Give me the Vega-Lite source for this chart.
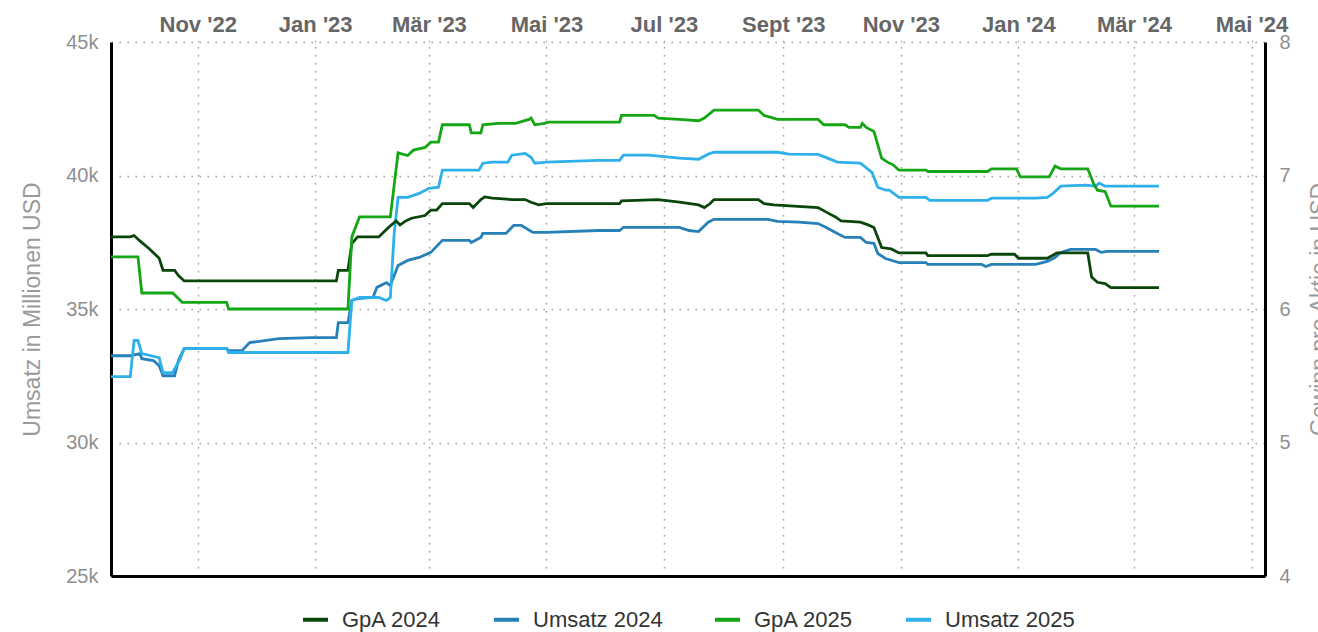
{
  "$schema": "https://vega.github.io/schema/vega-lite/v6.json",
  "width": 1154,
  "height": 534,
  "autosize": {"type": "none"},
  "padding": {"left": 111, "top": 42, "right": 53, "bottom": 56},
  "background": "white",
  "config": {
    "font": "Liberation Sans",
    "view": {"stroke": null},
    "axis": {"labelFont": "Liberation Sans", "titleFont": "Liberation Sans"},
    "legend": {"layout": {"bottom": {"anchor": "middle"}}}
  },
  "datasets": {
    "umsatz": [
      {"d": "2022-09-17", "s": "Umsatz 2024", "v": 33250},
      {"d": "2022-09-27", "s": "Umsatz 2024", "v": 33250},
      {"d": "2022-10-02", "s": "Umsatz 2024", "v": 33330},
      {"d": "2022-10-03", "s": "Umsatz 2024", "v": 33140},
      {"d": "2022-10-09", "s": "Umsatz 2024", "v": 33070},
      {"d": "2022-10-12", "s": "Umsatz 2024", "v": 32880},
      {"d": "2022-10-14", "s": "Umsatz 2024", "v": 32500},
      {"d": "2022-10-20", "s": "Umsatz 2024", "v": 32500},
      {"d": "2022-10-22", "s": "Umsatz 2024", "v": 33070},
      {"d": "2022-10-25", "s": "Umsatz 2024", "v": 33520},
      {"d": "2022-11-16", "s": "Umsatz 2024", "v": 33520},
      {"d": "2022-11-17", "s": "Umsatz 2024", "v": 33440},
      {"d": "2022-11-24", "s": "Umsatz 2024", "v": 33440},
      {"d": "2022-11-28", "s": "Umsatz 2024", "v": 33740},
      {"d": "2022-12-13", "s": "Umsatz 2024", "v": 33890},
      {"d": "2022-12-30", "s": "Umsatz 2024", "v": 33930},
      {"d": "2023-01-12", "s": "Umsatz 2024", "v": 33930},
      {"d": "2023-01-13", "s": "Umsatz 2024", "v": 34490},
      {"d": "2023-01-18", "s": "Umsatz 2024", "v": 34490},
      {"d": "2023-01-20", "s": "Umsatz 2024", "v": 35320},
      {"d": "2023-01-23", "s": "Umsatz 2024", "v": 35390},
      {"d": "2023-01-31", "s": "Umsatz 2024", "v": 35430},
      {"d": "2023-02-02", "s": "Umsatz 2024", "v": 35810},
      {"d": "2023-02-07", "s": "Umsatz 2024", "v": 35990},
      {"d": "2023-02-09", "s": "Umsatz 2024", "v": 35880},
      {"d": "2023-02-13", "s": "Umsatz 2024", "v": 36630},
      {"d": "2023-02-18", "s": "Umsatz 2024", "v": 36820},
      {"d": "2023-02-24", "s": "Umsatz 2024", "v": 36930},
      {"d": "2023-03-02", "s": "Umsatz 2024", "v": 37120},
      {"d": "2023-03-08", "s": "Umsatz 2024", "v": 37570},
      {"d": "2023-03-22", "s": "Umsatz 2024", "v": 37570},
      {"d": "2023-03-23", "s": "Umsatz 2024", "v": 37490},
      {"d": "2023-03-28", "s": "Umsatz 2024", "v": 37680},
      {"d": "2023-03-29", "s": "Umsatz 2024", "v": 37830},
      {"d": "2023-04-10", "s": "Umsatz 2024", "v": 37830},
      {"d": "2023-04-14", "s": "Umsatz 2024", "v": 38130},
      {"d": "2023-04-18", "s": "Umsatz 2024", "v": 38130},
      {"d": "2023-04-24", "s": "Umsatz 2024", "v": 37870},
      {"d": "2023-05-01", "s": "Umsatz 2024", "v": 37870},
      {"d": "2023-05-28", "s": "Umsatz 2024", "v": 37940},
      {"d": "2023-06-08", "s": "Umsatz 2024", "v": 37940},
      {"d": "2023-06-10", "s": "Umsatz 2024", "v": 38060},
      {"d": "2023-07-09", "s": "Umsatz 2024", "v": 38060},
      {"d": "2023-07-14", "s": "Umsatz 2024", "v": 37940},
      {"d": "2023-07-19", "s": "Umsatz 2024", "v": 37900},
      {"d": "2023-07-24", "s": "Umsatz 2024", "v": 38250},
      {"d": "2023-07-27", "s": "Umsatz 2024", "v": 38360},
      {"d": "2023-08-24", "s": "Umsatz 2024", "v": 38360},
      {"d": "2023-08-29", "s": "Umsatz 2024", "v": 38280},
      {"d": "2023-09-09", "s": "Umsatz 2024", "v": 38250},
      {"d": "2023-09-19", "s": "Umsatz 2024", "v": 38200},
      {"d": "2023-09-23", "s": "Umsatz 2024", "v": 38060},
      {"d": "2023-09-29", "s": "Umsatz 2024", "v": 37830},
      {"d": "2023-10-03", "s": "Umsatz 2024", "v": 37680},
      {"d": "2023-10-11", "s": "Umsatz 2024", "v": 37680},
      {"d": "2023-10-14", "s": "Umsatz 2024", "v": 37490},
      {"d": "2023-10-18", "s": "Umsatz 2024", "v": 37460},
      {"d": "2023-10-20", "s": "Umsatz 2024", "v": 37080},
      {"d": "2023-10-24", "s": "Umsatz 2024", "v": 36890},
      {"d": "2023-10-31", "s": "Umsatz 2024", "v": 36740},
      {"d": "2023-11-14", "s": "Umsatz 2024", "v": 36740},
      {"d": "2023-11-15", "s": "Umsatz 2024", "v": 36670},
      {"d": "2023-12-13", "s": "Umsatz 2024", "v": 36670},
      {"d": "2023-12-15", "s": "Umsatz 2024", "v": 36590},
      {"d": "2023-12-18", "s": "Umsatz 2024", "v": 36670},
      {"d": "2024-01-10", "s": "Umsatz 2024", "v": 36670},
      {"d": "2024-01-16", "s": "Umsatz 2024", "v": 36780},
      {"d": "2024-01-20", "s": "Umsatz 2024", "v": 36930},
      {"d": "2024-01-23", "s": "Umsatz 2024", "v": 37120},
      {"d": "2024-01-28", "s": "Umsatz 2024", "v": 37230},
      {"d": "2024-02-10", "s": "Umsatz 2024", "v": 37230},
      {"d": "2024-02-13", "s": "Umsatz 2024", "v": 37120},
      {"d": "2024-02-16", "s": "Umsatz 2024", "v": 37160},
      {"d": "2024-03-14", "s": "Umsatz 2024", "v": 37160},

      {"d": "2022-09-17", "s": "Umsatz 2025", "v": 32470},
      {"d": "2022-09-27", "s": "Umsatz 2025", "v": 32470},
      {"d": "2022-09-29", "s": "Umsatz 2025", "v": 33820},
      {"d": "2022-10-01", "s": "Umsatz 2025", "v": 33820},
      {"d": "2022-10-03", "s": "Umsatz 2025", "v": 33330},
      {"d": "2022-10-12", "s": "Umsatz 2025", "v": 33180},
      {"d": "2022-10-14", "s": "Umsatz 2025", "v": 32620},
      {"d": "2022-10-19", "s": "Umsatz 2025", "v": 32620},
      {"d": "2022-10-23", "s": "Umsatz 2025", "v": 33140},
      {"d": "2022-10-25", "s": "Umsatz 2025", "v": 33520},
      {"d": "2022-11-16", "s": "Umsatz 2025", "v": 33520},
      {"d": "2022-11-17", "s": "Umsatz 2025", "v": 33370},
      {"d": "2023-01-18", "s": "Umsatz 2025", "v": 33370},
      {"d": "2023-01-20", "s": "Umsatz 2025", "v": 35320},
      {"d": "2023-01-24", "s": "Umsatz 2025", "v": 35430},
      {"d": "2023-02-03", "s": "Umsatz 2025", "v": 35430},
      {"d": "2023-02-07", "s": "Umsatz 2025", "v": 35320},
      {"d": "2023-02-09", "s": "Umsatz 2025", "v": 35430},
      {"d": "2023-02-11", "s": "Umsatz 2025", "v": 37830},
      {"d": "2023-02-13", "s": "Umsatz 2025", "v": 39180},
      {"d": "2023-02-18", "s": "Umsatz 2025", "v": 39180},
      {"d": "2023-02-24", "s": "Umsatz 2025", "v": 39330},
      {"d": "2023-03-01", "s": "Umsatz 2025", "v": 39520},
      {"d": "2023-03-06", "s": "Umsatz 2025", "v": 39560},
      {"d": "2023-03-08", "s": "Umsatz 2025", "v": 40200},
      {"d": "2023-03-27", "s": "Umsatz 2025", "v": 40200},
      {"d": "2023-03-29", "s": "Umsatz 2025", "v": 40460},
      {"d": "2023-04-03", "s": "Umsatz 2025", "v": 40500},
      {"d": "2023-04-11", "s": "Umsatz 2025", "v": 40500},
      {"d": "2023-04-13", "s": "Umsatz 2025", "v": 40760},
      {"d": "2023-04-20", "s": "Umsatz 2025", "v": 40830},
      {"d": "2023-04-23", "s": "Umsatz 2025", "v": 40680},
      {"d": "2023-04-25", "s": "Umsatz 2025", "v": 40460},
      {"d": "2023-05-01", "s": "Umsatz 2025", "v": 40500},
      {"d": "2023-05-28", "s": "Umsatz 2025", "v": 40570},
      {"d": "2023-06-08", "s": "Umsatz 2025", "v": 40570},
      {"d": "2023-06-10", "s": "Umsatz 2025", "v": 40760},
      {"d": "2023-06-23", "s": "Umsatz 2025", "v": 40760},
      {"d": "2023-07-09", "s": "Umsatz 2025", "v": 40650},
      {"d": "2023-07-19", "s": "Umsatz 2025", "v": 40610},
      {"d": "2023-07-24", "s": "Umsatz 2025", "v": 40800},
      {"d": "2023-07-27", "s": "Umsatz 2025", "v": 40870},
      {"d": "2023-08-29", "s": "Umsatz 2025", "v": 40870},
      {"d": "2023-09-04", "s": "Umsatz 2025", "v": 40800},
      {"d": "2023-09-19", "s": "Umsatz 2025", "v": 40790},
      {"d": "2023-09-23", "s": "Umsatz 2025", "v": 40680},
      {"d": "2023-09-29", "s": "Umsatz 2025", "v": 40500},
      {"d": "2023-10-11", "s": "Umsatz 2025", "v": 40460},
      {"d": "2023-10-17", "s": "Umsatz 2025", "v": 40120},
      {"d": "2023-10-20", "s": "Umsatz 2025", "v": 39560},
      {"d": "2023-10-24", "s": "Umsatz 2025", "v": 39450},
      {"d": "2023-10-26", "s": "Umsatz 2025", "v": 39450},
      {"d": "2023-10-31", "s": "Umsatz 2025", "v": 39180},
      {"d": "2023-11-14", "s": "Umsatz 2025", "v": 39180},
      {"d": "2023-11-16", "s": "Umsatz 2025", "v": 39070},
      {"d": "2023-12-16", "s": "Umsatz 2025", "v": 39070},
      {"d": "2023-12-18", "s": "Umsatz 2025", "v": 39150},
      {"d": "2024-01-10", "s": "Umsatz 2025", "v": 39150},
      {"d": "2024-01-16", "s": "Umsatz 2025", "v": 39180},
      {"d": "2024-01-19", "s": "Umsatz 2025", "v": 39330},
      {"d": "2024-01-23", "s": "Umsatz 2025", "v": 39600},
      {"d": "2024-02-05", "s": "Umsatz 2025", "v": 39640},
      {"d": "2024-02-10", "s": "Umsatz 2025", "v": 39600},
      {"d": "2024-02-12", "s": "Umsatz 2025", "v": 39710},
      {"d": "2024-02-15", "s": "Umsatz 2025", "v": 39600},
      {"d": "2024-03-14", "s": "Umsatz 2025", "v": 39600}
    ],
    "gpa": [
      {"d": "2022-09-17", "s": "GpA 2024", "v": 6.54},
      {"d": "2022-09-27", "s": "GpA 2024", "v": 6.54},
      {"d": "2022-09-29", "s": "GpA 2024", "v": 6.55},
      {"d": "2022-10-02", "s": "GpA 2024", "v": 6.51},
      {"d": "2022-10-07", "s": "GpA 2024", "v": 6.45},
      {"d": "2022-10-12", "s": "GpA 2024", "v": 6.38},
      {"d": "2022-10-14", "s": "GpA 2024", "v": 6.29},
      {"d": "2022-10-20", "s": "GpA 2024", "v": 6.29},
      {"d": "2022-10-22", "s": "GpA 2024", "v": 6.25},
      {"d": "2022-10-25", "s": "GpA 2024", "v": 6.21},
      {"d": "2023-01-12", "s": "GpA 2024", "v": 6.21},
      {"d": "2023-01-13", "s": "GpA 2024", "v": 6.29},
      {"d": "2023-01-18", "s": "GpA 2024", "v": 6.29},
      {"d": "2023-01-20", "s": "GpA 2024", "v": 6.49},
      {"d": "2023-01-23", "s": "GpA 2024", "v": 6.54},
      {"d": "2023-02-03", "s": "GpA 2024", "v": 6.54},
      {"d": "2023-02-08", "s": "GpA 2024", "v": 6.61},
      {"d": "2023-02-12", "s": "GpA 2024", "v": 6.66},
      {"d": "2023-02-14", "s": "GpA 2024", "v": 6.63},
      {"d": "2023-02-17", "s": "GpA 2024", "v": 6.66},
      {"d": "2023-02-20", "s": "GpA 2024", "v": 6.68},
      {"d": "2023-02-27", "s": "GpA 2024", "v": 6.70},
      {"d": "2023-03-02", "s": "GpA 2024", "v": 6.74},
      {"d": "2023-03-05", "s": "GpA 2024", "v": 6.74},
      {"d": "2023-03-08", "s": "GpA 2024", "v": 6.79},
      {"d": "2023-03-22", "s": "GpA 2024", "v": 6.79},
      {"d": "2023-03-24", "s": "GpA 2024", "v": 6.76},
      {"d": "2023-03-28", "s": "GpA 2024", "v": 6.82},
      {"d": "2023-03-30", "s": "GpA 2024", "v": 6.84},
      {"d": "2023-04-03", "s": "GpA 2024", "v": 6.83},
      {"d": "2023-04-13", "s": "GpA 2024", "v": 6.82},
      {"d": "2023-04-20", "s": "GpA 2024", "v": 6.82},
      {"d": "2023-04-23", "s": "GpA 2024", "v": 6.80},
      {"d": "2023-04-27", "s": "GpA 2024", "v": 6.78},
      {"d": "2023-05-01", "s": "GpA 2024", "v": 6.79},
      {"d": "2023-06-08", "s": "GpA 2024", "v": 6.79},
      {"d": "2023-06-09", "s": "GpA 2024", "v": 6.81},
      {"d": "2023-06-28", "s": "GpA 2024", "v": 6.82},
      {"d": "2023-07-09", "s": "GpA 2024", "v": 6.80},
      {"d": "2023-07-19", "s": "GpA 2024", "v": 6.78},
      {"d": "2023-07-22", "s": "GpA 2024", "v": 6.76},
      {"d": "2023-07-25", "s": "GpA 2024", "v": 6.79},
      {"d": "2023-07-27", "s": "GpA 2024", "v": 6.82},
      {"d": "2023-08-19", "s": "GpA 2024", "v": 6.82},
      {"d": "2023-08-22", "s": "GpA 2024", "v": 6.79},
      {"d": "2023-08-27", "s": "GpA 2024", "v": 6.78},
      {"d": "2023-09-19", "s": "GpA 2024", "v": 6.76},
      {"d": "2023-09-24", "s": "GpA 2024", "v": 6.72},
      {"d": "2023-09-28", "s": "GpA 2024", "v": 6.69},
      {"d": "2023-10-01", "s": "GpA 2024", "v": 6.66},
      {"d": "2023-10-11", "s": "GpA 2024", "v": 6.65},
      {"d": "2023-10-15", "s": "GpA 2024", "v": 6.63},
      {"d": "2023-10-18", "s": "GpA 2024", "v": 6.61},
      {"d": "2023-10-22", "s": "GpA 2024", "v": 6.46},
      {"d": "2023-10-27", "s": "GpA 2024", "v": 6.45},
      {"d": "2023-10-31", "s": "GpA 2024", "v": 6.42},
      {"d": "2023-11-14", "s": "GpA 2024", "v": 6.42},
      {"d": "2023-11-15", "s": "GpA 2024", "v": 6.40},
      {"d": "2023-12-16", "s": "GpA 2024", "v": 6.40},
      {"d": "2023-12-18", "s": "GpA 2024", "v": 6.41},
      {"d": "2023-12-30", "s": "GpA 2024", "v": 6.41},
      {"d": "2024-01-01", "s": "GpA 2024", "v": 6.38},
      {"d": "2024-01-16", "s": "GpA 2024", "v": 6.38},
      {"d": "2024-01-21", "s": "GpA 2024", "v": 6.42},
      {"d": "2024-02-06", "s": "GpA 2024", "v": 6.42},
      {"d": "2024-02-08", "s": "GpA 2024", "v": 6.24},
      {"d": "2024-02-11", "s": "GpA 2024", "v": 6.20},
      {"d": "2024-02-15", "s": "GpA 2024", "v": 6.19},
      {"d": "2024-02-18", "s": "GpA 2024", "v": 6.16},
      {"d": "2024-03-14", "s": "GpA 2024", "v": 6.16},

      {"d": "2022-09-17", "s": "GpA 2025", "v": 6.39},
      {"d": "2022-10-01", "s": "GpA 2025", "v": 6.39},
      {"d": "2022-10-03", "s": "GpA 2025", "v": 6.12},
      {"d": "2022-10-19", "s": "GpA 2025", "v": 6.12},
      {"d": "2022-10-24", "s": "GpA 2025", "v": 6.05},
      {"d": "2022-11-16", "s": "GpA 2025", "v": 6.05},
      {"d": "2022-11-17", "s": "GpA 2025", "v": 6.00},
      {"d": "2023-01-18", "s": "GpA 2025", "v": 6.00},
      {"d": "2023-01-20", "s": "GpA 2025", "v": 6.54},
      {"d": "2023-01-24", "s": "GpA 2025", "v": 6.69},
      {"d": "2023-02-09", "s": "GpA 2025", "v": 6.69},
      {"d": "2023-02-13", "s": "GpA 2025", "v": 7.17},
      {"d": "2023-02-18", "s": "GpA 2025", "v": 7.15},
      {"d": "2023-02-21", "s": "GpA 2025", "v": 7.19},
      {"d": "2023-02-27", "s": "GpA 2025", "v": 7.21},
      {"d": "2023-03-02", "s": "GpA 2025", "v": 7.25},
      {"d": "2023-03-06", "s": "GpA 2025", "v": 7.25},
      {"d": "2023-03-08", "s": "GpA 2025", "v": 7.38},
      {"d": "2023-03-22", "s": "GpA 2025", "v": 7.38},
      {"d": "2023-03-23", "s": "GpA 2025", "v": 7.32},
      {"d": "2023-03-28", "s": "GpA 2025", "v": 7.32},
      {"d": "2023-03-29", "s": "GpA 2025", "v": 7.38},
      {"d": "2023-04-06", "s": "GpA 2025", "v": 7.39},
      {"d": "2023-04-15", "s": "GpA 2025", "v": 7.39},
      {"d": "2023-04-22", "s": "GpA 2025", "v": 7.42},
      {"d": "2023-04-23", "s": "GpA 2025", "v": 7.43},
      {"d": "2023-04-25", "s": "GpA 2025", "v": 7.38},
      {"d": "2023-04-30", "s": "GpA 2025", "v": 7.39},
      {"d": "2023-05-02", "s": "GpA 2025", "v": 7.40},
      {"d": "2023-06-08", "s": "GpA 2025", "v": 7.40},
      {"d": "2023-06-09", "s": "GpA 2025", "v": 7.45},
      {"d": "2023-06-26", "s": "GpA 2025", "v": 7.45},
      {"d": "2023-06-28", "s": "GpA 2025", "v": 7.43},
      {"d": "2023-07-09", "s": "GpA 2025", "v": 7.42},
      {"d": "2023-07-19", "s": "GpA 2025", "v": 7.41},
      {"d": "2023-07-22", "s": "GpA 2025", "v": 7.43},
      {"d": "2023-07-27", "s": "GpA 2025", "v": 7.49},
      {"d": "2023-08-19", "s": "GpA 2025", "v": 7.49},
      {"d": "2023-08-22", "s": "GpA 2025", "v": 7.45},
      {"d": "2023-08-29", "s": "GpA 2025", "v": 7.42},
      {"d": "2023-09-19", "s": "GpA 2025", "v": 7.42},
      {"d": "2023-09-22", "s": "GpA 2025", "v": 7.38},
      {"d": "2023-10-03", "s": "GpA 2025", "v": 7.38},
      {"d": "2023-10-05", "s": "GpA 2025", "v": 7.36},
      {"d": "2023-10-11", "s": "GpA 2025", "v": 7.36},
      {"d": "2023-10-12", "s": "GpA 2025", "v": 7.39},
      {"d": "2023-10-14", "s": "GpA 2025", "v": 7.36},
      {"d": "2023-10-18", "s": "GpA 2025", "v": 7.33},
      {"d": "2023-10-22", "s": "GpA 2025", "v": 7.13},
      {"d": "2023-10-25", "s": "GpA 2025", "v": 7.10},
      {"d": "2023-10-28", "s": "GpA 2025", "v": 7.08},
      {"d": "2023-10-31", "s": "GpA 2025", "v": 7.04},
      {"d": "2023-11-14", "s": "GpA 2025", "v": 7.04},
      {"d": "2023-11-15", "s": "GpA 2025", "v": 7.03},
      {"d": "2023-12-16", "s": "GpA 2025", "v": 7.03},
      {"d": "2023-12-18", "s": "GpA 2025", "v": 7.05},
      {"d": "2023-12-31", "s": "GpA 2025", "v": 7.05},
      {"d": "2024-01-02", "s": "GpA 2025", "v": 6.99},
      {"d": "2024-01-17", "s": "GpA 2025", "v": 6.99},
      {"d": "2024-01-20", "s": "GpA 2025", "v": 7.07},
      {"d": "2024-01-23", "s": "GpA 2025", "v": 7.05},
      {"d": "2024-02-06", "s": "GpA 2025", "v": 7.05},
      {"d": "2024-02-09", "s": "GpA 2025", "v": 6.94},
      {"d": "2024-02-11", "s": "GpA 2025", "v": 6.89},
      {"d": "2024-02-15", "s": "GpA 2025", "v": 6.88},
      {"d": "2024-02-18", "s": "GpA 2025", "v": 6.77},
      {"d": "2024-03-14", "s": "GpA 2025", "v": 6.77}
    ]
  },
  "layer": [
    {
      "data": {"name": "umsatz"},
      "mark": {"type": "line", "strokeWidth": 2.8, "clip": true},
      "encoding": {
        "x": {
          "field": "d", "type": "temporal",
          "scale": {"domain": [{"year": 2022, "month": 9, "date": 17}, {"year": 2024, "month": 5, "date": 8}]},
          "axis": {
            "orient": "top", "title": null,
            "values": [
              {"year": 2022, "month": 11, "date": 1},
              {"year": 2023, "month": 1, "date": 1},
              {"year": 2023, "month": 3, "date": 1},
              {"year": 2023, "month": 5, "date": 1},
              {"year": 2023, "month": 7, "date": 1},
              {"year": 2023, "month": 9, "date": 1},
              {"year": 2023, "month": 11, "date": 1},
              {"year": 2024, "month": 1, "date": 1},
              {"year": 2024, "month": 3, "date": 1},
              {"year": 2024, "month": 5, "date": 1}
            ],
            "labelExpr": "['Jan','Feb','Mär','Apr','Mai','Jun','Jul','Aug','Sept','Okt','Nov','Dez'][month(datum.value)] + \" '\" + timeFormat(datum.value, '%y')",
            "labelFontSize": 22, "labelFontWeight": "bold", "labelColor": "#666666",
            "labelPadding": 1, "labelFlush": false, "labelOverlap": false,
            "domain": false, "ticks": true, "tickSize": 5, "tickColor": "#aaaaaa", "tickDash": [2, 3],
            "grid": true, "gridColor": "#a0a0a0", "gridDash": [1.5, 6.5], "gridWidth": 1.5
          }
        },
        "y": {
          "field": "v", "type": "quantitative",
          "scale": {"domain": [25000, 45000], "nice": false, "zero": false},
          "axis": {
            "orient": "left", "title": "Umsatz in Millionen USD",
            "values": [25000, 30000, 35000, 40000, 45000], "format": "~s",
            "labelFontSize": 20, "labelColor": "#8f8f8f", "labelPadding": 13,
            "titleFontSize": 23, "titleFontWeight": "normal", "titleColor": "#9a9a9a", "titlePadding": 21,
            "ticks": false, "domain": true, "domainColor": "#000000", "domainWidth": 3,
            "grid": true, "gridColor": "#a0a0a0", "gridDash": [1.5, 6.5], "gridWidth": 1.5
          }
        },
        "color": {
          "field": "s", "type": "nominal",
          "scale": {
            "domain": ["GpA 2024", "Umsatz 2024", "GpA 2025", "Umsatz 2025"],
            "range": ["#0a460a", "#2681b8", "#14a614", "#2eb0ea"]
          },
          "legend": {
            "title": null, "orient": "bottom", "direction": "horizontal",
            "symbolType": "stroke", "symbolStrokeWidth": 4, "symbolSize": 625,
            "labelFontSize": 22, "labelColor": "#333333", "labelFont": "Liberation Sans",
            "columnPadding": 44, "labelOffset": 12, "offset": 29
          }
        }
      }
    },
    {
      "data": {"name": "gpa"},
      "mark": {"type": "line", "strokeWidth": 2.8, "clip": true},
      "encoding": {
        "x": {
          "field": "d", "type": "temporal",
          "axis": {
            "orient": "bottom", "title": null, "labels": false, "ticks": false, "grid": false,
            "domain": true, "domainColor": "#000000", "domainWidth": 3
          }
        },
        "y": {
          "field": "v", "type": "quantitative",
          "scale": {"domain": [4, 8], "nice": false, "zero": false},
          "axis": {
            "orient": "right", "title": "Gewinn pro Aktie in USD",
            "values": [4, 5, 6, 7, 8], "format": "d",
            "labelFontSize": 20, "labelColor": "#8f8f8f", "labelPadding": 14,
            "titleFontSize": 23, "titleFontWeight": "normal", "titleColor": "#9a9a9a",
            "titlePadding": 18, "titleAngle": 270, "titleBaseline": "top",
            "ticks": false, "domain": true, "domainColor": "#000000", "domainWidth": 3,
            "grid": false
          }
        },
        "color": {"field": "s", "type": "nominal"}
      }
    }
  ],
  "resolve": {"scale": {"y": "independent"}, "axis": {"x": "independent", "y": "independent"}}
}
